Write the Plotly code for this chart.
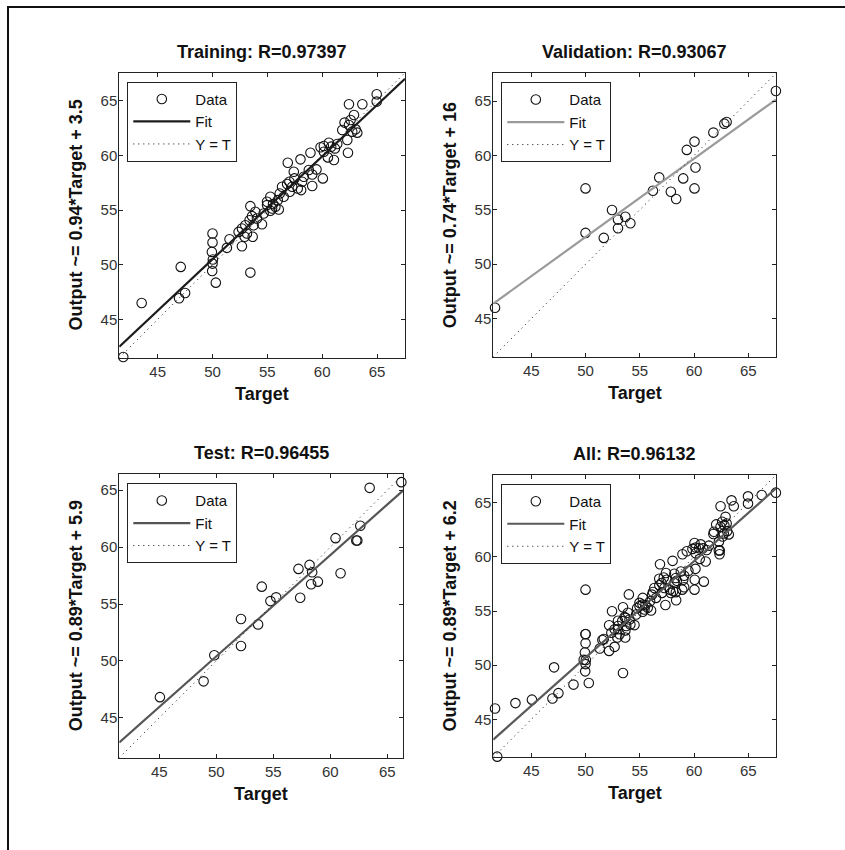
import plotly.graph_objects as go

# ---------------- data ----------------
panel_titles = ["Training: R=0.97397", "Validation: R=0.93067",
                "Test: R=0.96455", "All: R=0.96132"]
fit_labels = ["Output ~= 0.94*Target + 3.5", "Output ~= 0.74*Target + 16",
              "Output ~= 0.89*Target + 5.9", "Output ~= 0.89*Target + 6.2"]
fit_slope = [0.94, 0.72, 0.89, 0.89]
fit_intercept = [3.5, 16.5, 5.9, 6.2]
axis_lo = [41.5, 41.5, 41.5, 41.5]
axis_hi = [67.55, 67.55, 66.4, 67.55]
tick_vals = [45, 50, 55, 60, 65]
legend_names = ["Data", "Fit", "Y = T"]

train_target = [41.86, 43.54, 47.10, 46.95, 47.50, 50.0, 50.0, 49.94, 50.03, 50.0,
                49.97, 50.30, 51.31, 51.55, 53.45, 53.45, 52.68, 52.38, 52.68, 52.99,
                53.14, 53.38, 53.60, 53.75, 53.66, 53.90, 54.05, 54.51, 54.97, 55.27,
                54.97, 55.27, 55.52, 55.73, 55.95, 56.04, 56.13, 56.34, 56.49, 56.80,
                56.86, 57.04, 57.26, 57.41, 57.47, 57.77, 58.02, 58.08, 58.32, 58.78,
                58.93, 59.09, 59.09, 59.48, 60.06, 59.85, 60.15, 60.52, 60.61, 60.82,
                61.16, 61.37, 61.83, 62.04, 62.29, 62.35, 62.44, 62.90, 63.05, 62.74,
                63.20, 63.66, 64.97, 64.97, 67.56, 67.56, 62.44, 60.15, 54.66, 52.93,
                55.43, 57.01, 58.17, 62.59, 61.07]
train_output = [41.56, 46.50, 49.80, 46.93, 47.42, 52.85, 52.03, 51.17, 50.47, 50.10,
                49.43, 48.36, 51.54, 52.33, 49.28, 55.35, 51.69, 53.00, 53.31, 53.61,
                52.85, 54.07, 54.44, 53.61, 52.55, 54.84, 54.22, 53.70, 55.75, 56.21,
                55.45, 54.93, 55.54, 55.29, 55.90, 55.05, 56.51, 57.12, 56.21, 57.37,
                59.32, 56.67, 57.12, 58.50, 57.89, 56.97, 59.63, 56.82, 58.04, 58.65,
                60.24, 58.25, 57.19, 58.71, 57.89, 60.73, 60.33, 59.81, 61.15, 60.79,
                60.63, 61.03, 62.31, 62.99, 61.40, 60.24, 64.66, 63.69, 62.37, 62.16,
                62.07, 64.66, 65.58, 64.91, 66.53, 65.76, 62.77, 60.85, 54.68, 52.55,
                55.14, 57.58, 57.58, 63.23, 59.57]

val_target = [41.66, 50.0, 50.0, 51.68, 52.44, 52.99, 52.99, 53.67, 54.13, 56.21,
              56.79, 57.86, 58.35, 59.00, 59.33, 60.04, 60.13, 60.04, 61.78, 62.79,
              63.00, 67.54]
val_output = [46.00, 56.97, 52.88, 52.42, 54.98, 54.10, 53.31, 54.37, 53.76, 56.76,
              57.98, 56.66, 55.99, 57.89, 60.51, 61.27, 58.89, 56.97, 62.10, 62.92,
              63.08, 65.92]

test_target = [45.06, 48.89, 49.83, 52.17, 52.17, 53.67, 53.99, 54.75, 55.25, 57.21,
               57.36, 58.18, 58.41, 58.32, 58.91, 60.46, 60.90, 62.28, 62.37, 62.63,
               63.45, 66.23]
test_output = [46.82, 48.21, 50.50, 53.68, 51.32, 53.21, 56.53, 55.26, 55.59, 58.09,
               55.56, 58.44, 57.79, 56.74, 56.97, 60.79, 57.71, 60.59, 60.59, 61.88,
               65.21, 65.71]

all_target = train_target + val_target + test_target
all_output = train_output + val_output + test_output

panel_targets = [train_target, val_target, test_target, all_target]
panel_outputs = [train_output, val_output, test_output, all_output]

# ---------------- styling / layout ----------------
W, H = 845, 850
fit_colors = ["#1c1c1c", "#9a9a9a", "#555555", "#5a5a5a"]
# axes boxes in pixels: (left, right, top, bottom)
boxes = [(119.3, 405.0, 72.7, 357.7),
         (493.3, 776.0, 73.3, 356.7),
         (119.3, 403.3, 474.3, 757.7),
         (493.3, 776.0, 475.0, 757.3)]
FONT = "Liberation Sans, Arial, sans-serif"

fig = go.Figure()
layout = dict(width=W, height=H, margin=dict(l=0, r=0, t=0, b=0),
              autosize=False, paper_bgcolor="white", plot_bgcolor="white",
              font=dict(family=FONT, color="#111"))
annotations = []

for i in range(4):
    sfx = "" if i == 0 else str(i + 1)
    xa, ya = "x" + sfx, "y" + sfx
    leg = "legend" + sfx
    lo, hi = axis_lo[i], axis_hi[i]
    L, R, T, B = boxes[i]

    fig.add_trace(go.Scatter(
        x=panel_targets[i], y=panel_outputs[i], mode="markers", name=legend_names[0],
        marker=dict(symbol="circle-open", size=9.5, color="#111", line=dict(width=1.1, color="#111")),
        xaxis=xa, yaxis=ya, legend=leg, cliponaxis=False))
    fx = [lo, hi]
    fy = [fit_slope[i] * v + fit_intercept[i] for v in fx]
    fig.add_trace(go.Scatter(
        x=fx, y=fy, mode="lines", name=legend_names[1],
        line=dict(color=fit_colors[i], width=2.2),
        xaxis=xa, yaxis=ya, legend=leg))
    fig.add_trace(go.Scatter(
        x=fx, y=fx, mode="lines", name=legend_names[2],
        line=dict(color="#111", width=1, dash="1px,4px"),
        xaxis=xa, yaxis=ya, legend=leg))

    axis_common = dict(range=[lo, hi], tickvals=tick_vals, ticks="inside", ticklen=4,
                       tickcolor="#222", showline=True, linecolor="#222", linewidth=1,
                       mirror="ticks", showgrid=False, zeroline=False,
                       tickfont=dict(family=FONT, size=15, color="#333"))
    layout["xaxis" + sfx] = dict(axis_common, domain=[L / W, R / W], anchor=ya)
    layout["yaxis" + sfx] = dict(axis_common, domain=[1 - B / H, 1 - T / H], anchor=xa,
                                 ticklabelstandoff=-2)

    layout[leg] = dict(x=(L + 8) / W, y=1 - (T + 9) / H, xanchor="left", yanchor="top",
                       bgcolor="white", bordercolor="#222", borderwidth=1,
                       font=dict(family=FONT, size=15, color="#111"),
                       itemwidth=57, tracegroupgap=0)

    cx = (L + R) / 2
    cy = (T + B) / 2
    annotations.append(dict(text="<b>" + panel_titles[i] + "</b>", x=cx / W, y=1 - (T - 21) / H,
                            xref="paper", yref="paper", showarrow=False,
                            xanchor="center", yanchor="middle",
                            font=dict(family=FONT, size=18, color="#111")))
    annotations.append(dict(text="<b>Target</b>", x=cx / W, y=1 - (B + 36) / H,
                            xref="paper", yref="paper", showarrow=False,
                            xanchor="center", yanchor="middle",
                            font=dict(family=FONT, size=18, color="#111")))
    annotations.append(dict(text="<b>" + fit_labels[i] + "</b>", x=(L - 43) / W, y=1 - cy / H,
                            xref="paper", yref="paper", showarrow=False, textangle=-90,
                            xanchor="center", yanchor="middle",
                            font=dict(family=FONT, size=18, color="#111")))

layout["annotations"] = annotations
layout["shapes"] = [
    dict(type="line", xref="paper", yref="paper", x0=7 / W, x1=1, y0=1 - 7 / H, y1=1 - 7 / H,
         line=dict(color="#111", width=2)),
    dict(type="line", xref="paper", yref="paper", x0=8 / W, x1=8 / W, y0=0, y1=1 - 6 / H,
         line=dict(color="#111", width=2)),
]
fig.update_layout(**layout)
fig.write_html("out.html", config={"displayModeBar": False},
               post_script="document.body.style.margin='0px';document.body.style.overflow='hidden';")
